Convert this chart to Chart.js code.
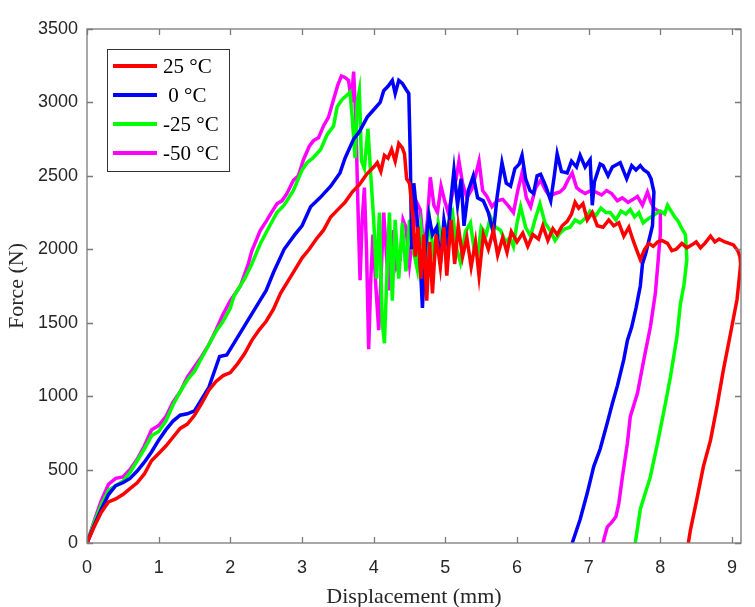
<!DOCTYPE html>
<html>
<head>
<meta charset="utf-8">
<script src="https://cdn.jsdelivr.net/npm/chart.js@4.4.1/dist/chart.umd.min.js"></script>
<style>
  html, body { margin: 0; padding: 0; background: #fff; }
  #wrap { width: 755px; height: 607px; }
</style>
</head>
<body>
<div id="wrap"><canvas id="chart-force" width="755" height="607"></canvas></div>
<script>
// Force vs displacement
const labels = ['25 °C', ' 0 °C', '-25 °C', '-50 °C'];
const colors = ['#ff0000', '#0000ff', '#00ff00', '#ff00ff'];
const xTicks = [0, 1, 2, 3, 4, 5, 6, 7, 8, 9];
const yTicks = [0, 500, 1000, 1500, 2000, 2500, 3000, 3500];

const disp25 = [0, 0.1, 0.2, 0.3, 0.4, 0.5, 0.6, 0.7, 0.8, 0.9, 1.0, 1.1, 1.2, 1.3, 1.4, 1.5, 1.6, 1.7, 1.8, 1.9, 2.0, 2.1, 2.2, 2.3, 2.4, 2.5, 2.6, 2.7, 2.8, 2.9, 3.0, 3.1, 3.2, 3.3, 3.4, 3.5, 3.6, 3.7, 3.8, 3.9, 4.0, 4.05, 4.1, 4.15, 4.2, 4.25, 4.3, 4.35, 4.4, 4.43, 4.46, 4.5, 4.55, 4.58, 4.62, 4.66, 4.7, 4.74, 4.78, 4.82, 4.87, 4.93, 4.98, 5.02, 5.08, 5.13, 5.18, 5.24, 5.3, 5.36, 5.42, 5.47, 5.53, 5.6, 5.67, 5.73, 5.8, 5.86, 5.92, 6.0, 6.08, 6.15, 6.22, 6.3, 6.36, 6.43, 6.5, 6.56, 6.63, 6.7, 6.76, 6.81, 6.86, 6.92, 6.98, 7.05, 7.12, 7.2, 7.28, 7.35, 7.42, 7.49, 7.56, 7.62, 7.68, 7.72, 7.78, 7.84, 7.9, 7.96, 8.02, 8.1, 8.16, 8.22, 8.3, 8.37, 8.44, 8.5, 8.56, 8.62, 8.7, 8.76, 8.82, 8.9, 8.96, 9.02, 9.08, 9.11, 9.12, 9.1, 9.07, 8.98, 8.88, 8.79, 8.7, 8.6, 8.51, 8.42, 8.39];
const force25 = [0, 110, 210, 280, 300, 330, 370, 410, 470, 560, 610, 660, 720, 780, 810, 870, 950, 1040, 1100, 1140, 1160, 1220, 1290, 1380, 1450, 1510, 1590, 1700, 1780, 1860, 1940, 2000, 2070, 2130, 2220, 2270, 2320, 2390, 2440, 2510, 2560, 2590, 2530, 2640, 2620, 2680, 2600, 2720, 2690, 2650, 2480, 2450, 2200, 1950, 2150, 1800, 2100, 1650, 2050, 1700, 2100, 1880, 2150, 1820, 2200, 1900, 2160, 1950, 2080, 1880, 2050, 1820, 2100, 2000, 2130, 1960, 2080, 1980, 2120, 2050, 2110, 2020, 2100, 2070, 2160, 2060, 2140, 2100, 2160, 2190, 2240, 2320, 2280, 2310, 2200, 2250, 2160, 2150, 2200, 2160, 2180, 2090, 2150, 2060, 1980, 1930, 2000, 2040, 2020, 2050, 2060, 2040, 1990, 2000, 2040, 2010, 2030, 2050, 2010, 2040, 2090, 2050, 2070, 2050, 2040, 2030, 1990, 1950, 1900, 1800, 1660, 1430, 1180, 930, 700, 520, 300, 90, 0];

const disp0 = [0, 0.1, 0.2, 0.3, 0.4, 0.5, 0.6, 0.7, 0.8, 0.9, 1.0, 1.1, 1.2, 1.3, 1.4, 1.5, 1.6, 1.7, 1.8, 1.85, 1.95, 2.0, 2.1, 2.2, 2.3, 2.4, 2.5, 2.6, 2.75, 2.9, 3.0, 3.12, 3.25, 3.4, 3.53, 3.6, 3.72, 3.8, 3.91, 4.0, 4.09, 4.14, 4.2, 4.26, 4.3, 4.35, 4.4, 4.45, 4.49, 4.51, 4.53, 4.56, 4.6, 4.65, 4.68, 4.72, 4.77, 4.82, 4.88, 4.93, 4.98, 5.03, 5.08, 5.12, 5.17, 5.22, 5.26, 5.32, 5.39, 5.45, 5.53, 5.6, 5.67, 5.72, 5.79, 5.85, 5.91, 5.97, 6.03, 6.07, 6.12, 6.18, 6.23, 6.28, 6.33, 6.4, 6.47, 6.52, 6.56, 6.62, 6.7, 6.76, 6.83, 6.88, 6.95, 7.02, 7.05, 7.08, 7.16, 7.2, 7.27, 7.33, 7.44, 7.53, 7.6, 7.66, 7.72, 7.77, 7.83, 7.87, 7.91, 7.89, 7.84, 7.8, 7.75, 7.72, 7.66, 7.6, 7.54, 7.49, 7.4, 7.33, 7.26, 7.16, 7.07, 6.98, 6.88, 6.77];
const force0 = [0, 120, 230, 330, 390, 410, 440, 490, 550, 620, 700, 770, 830, 870, 880, 900, 980, 1060, 1200, 1270, 1280, 1320, 1400, 1480, 1560, 1640, 1720, 1840, 2000, 2100, 2160, 2290, 2350, 2430, 2520, 2620, 2750, 2800, 2900, 2950, 3000, 3080, 3110, 3150, 3060, 3150, 3130, 3090, 3060, 2650, 2000, 2450, 2250, 1900, 1600, 2000, 2230, 2100, 2150, 1900, 2200, 2050, 2350, 2540, 2300, 2480, 2160, 2400, 2500, 2350, 2330, 2250, 2110, 2350, 2590, 2450, 2430, 2550, 2580, 2640, 2480, 2400, 2380, 2500, 2510, 2430, 2330, 2500, 2650, 2530, 2520, 2600, 2560, 2640, 2560, 2610, 2300, 2460, 2580, 2570, 2500, 2560, 2590, 2480, 2570, 2540, 2570, 2540, 2520, 2480, 2390, 2160, 2060, 1980, 1900, 1750, 1600, 1470, 1380, 1250, 1070, 950, 820, 640, 520, 340, 160, 0];

const disp25n = [0, 0.1, 0.2, 0.3, 0.4, 0.5, 0.6, 0.7, 0.8, 0.9, 1.0, 1.1, 1.2, 1.3, 1.4, 1.5, 1.6, 1.7, 1.8, 1.9, 2.0, 2.05, 2.2, 2.3, 2.42, 2.55, 2.65, 2.75, 2.88, 3.0, 3.07, 3.15, 3.26, 3.35, 3.44, 3.49, 3.56, 3.63, 3.67, 3.7, 3.74, 3.77, 3.8, 3.83, 3.87, 3.92, 3.96, 4.0, 4.04, 4.08, 4.12, 4.15, 4.19, 4.22, 4.26, 4.3, 4.35, 4.4, 4.45, 4.5, 4.55, 4.61, 4.66, 4.72, 4.78, 4.84, 4.9, 4.95, 5.02, 5.1, 5.16, 5.21, 5.28, 5.35, 5.4, 5.45, 5.5, 5.57, 5.63, 5.7, 5.77, 5.84, 5.9, 5.95, 6.0, 6.05, 6.12, 6.19, 6.25, 6.32, 6.39, 6.46, 6.53, 6.6, 6.67, 6.74, 6.81, 6.88, 6.95, 7.02, 7.1, 7.17, 7.24, 7.3, 7.38, 7.45, 7.52, 7.58, 7.64, 7.7, 7.76, 7.81, 7.87, 7.93, 8.0, 8.06, 8.1, 8.15, 8.2, 8.25, 8.3, 8.35, 8.37, 8.33, 8.28, 8.23, 8.14, 8.05, 7.96, 7.86, 7.72, 7.65];
const force25n = [0, 140, 260, 360, 390, 420, 480, 560, 640, 730, 760, 830, 940, 1030, 1110, 1170, 1260, 1350, 1440, 1510, 1600, 1680, 1800, 1900, 2040, 2160, 2250, 2300, 2400, 2540, 2590, 2620, 2680, 2780, 2840, 2970, 3020, 3050, 3070, 2900, 2620, 3000, 3080, 2600, 2550, 2820, 2500, 2200, 1800, 2250, 1500, 1360, 1900, 2250, 1650, 2200, 1800, 2180, 1850, 2200, 2000, 1860, 2150, 1920, 2200, 1950, 2180, 2060, 2150, 2250, 2000, 1910, 2120, 2180, 2000, 1950, 2150, 2100, 2220, 2150, 2130, 2050, 2080, 2020, 2180, 2290, 2150, 2090, 2200, 2310, 2180, 2130, 2060, 2110, 2140, 2150, 2200, 2180, 2210, 2260, 2230, 2280, 2250, 2250, 2200, 2260, 2240, 2270, 2220, 2250, 2180, 2200, 2220, 2240, 2260, 2240, 2300, 2260, 2220, 2190, 2140, 2100, 1930, 1760, 1630, 1400, 1130, 900, 680, 450, 230, 0];

const disp50n = [0, 0.1, 0.2, 0.3, 0.4, 0.5, 0.6, 0.7, 0.8, 0.9, 1.0, 1.1, 1.2, 1.3, 1.4, 1.5, 1.6, 1.7, 1.8, 1.9, 2.0, 2.14, 2.25, 2.3, 2.42, 2.5, 2.56, 2.65, 2.72, 2.79, 2.88, 2.95, 3.02, 3.1, 3.16, 3.23, 3.3, 3.37, 3.44, 3.5, 3.55, 3.6, 3.65, 3.69, 3.72, 3.75, 3.78, 3.81, 3.84, 3.87, 3.9, 3.93, 3.96, 3.99, 4.03, 4.07, 4.11, 4.14, 4.18, 4.21, 4.25, 4.28, 4.32, 4.37, 4.41, 4.45, 4.5, 4.55, 4.6, 4.65, 4.7, 4.75, 4.79, 4.84, 4.89, 4.94, 4.99, 5.04, 5.1, 5.15, 5.19, 5.24, 5.3, 5.37, 5.42, 5.47, 5.52, 5.58, 5.65, 5.72, 5.8, 5.87, 5.95, 6.01, 6.07, 6.13, 6.19, 6.26, 6.33, 6.4, 6.46, 6.53, 6.6, 6.66, 6.72, 6.77, 6.83, 6.88, 6.95, 7.03, 7.1, 7.18, 7.25, 7.32, 7.4, 7.47, 7.55, 7.62, 7.68, 7.75, 7.82, 7.87, 7.91, 7.97, 8.0, 8.0, 7.97, 7.93, 7.86, 7.77, 7.68, 7.58, 7.54, 7.47, 7.42, 7.38, 7.32, 7.26, 7.22, 7.2];
const force50n = [0, 150, 290, 400, 440, 450, 500, 570, 660, 770, 800, 860, 960, 1030, 1130, 1200, 1270, 1350, 1450, 1560, 1650, 1750, 1900, 1990, 2130, 2190, 2240, 2310, 2330, 2380, 2470, 2500, 2610, 2700, 2740, 2760, 2840, 2900, 3020, 3120, 3180, 3170, 3150, 3000, 3210, 2900, 2300, 1790, 2200, 2420, 2000, 1320, 1800, 2100, 1750, 1450, 1900, 2250, 1950, 1720, 2000, 2130, 1880, 1930, 2200, 2150, 1900, 2100, 2320, 2270, 2000, 2200, 2490, 2300, 2250, 2430, 2330, 2250, 2380, 2480, 2600, 2450, 2350, 2410, 2500, 2600, 2400, 2360, 2290, 2330, 2340, 2300, 2250, 2400, 2520, 2350, 2290, 2420, 2470, 2400, 2360, 2380, 2390, 2420, 2480, 2520, 2420, 2400, 2380, 2400, 2390, 2370, 2400, 2380, 2330, 2350, 2320, 2340, 2360, 2300, 2390, 2320, 2280, 2260, 2240, 2110, 1930, 1700, 1470, 1250, 1020, 860, 680, 450, 270, 180, 140, 110, 40, 0];

const series = [
  [disp25, force25],
  [disp0, force0],
  [disp25n, force25n],
  [disp50n, force50n]
];

const TEXT = '#262626';
const SANS = 'Liberation Sans, Arial, sans-serif';
const SERIF = 'Liberation Serif, Times New Roman, serif';

// box + inward ticks on all four sides, like the original plot
const framePlugin = {
  id: 'frame',
  afterDatasetsDraw(chart) {
    const { ctx, chartArea: a, scales } = chart;
    ctx.save();
    ctx.strokeStyle = '#7a7a7a';
    ctx.lineWidth = 1.3;
    ctx.strokeRect(a.left, a.top, a.right - a.left, a.bottom - a.top);
    ctx.beginPath();
    xTicks.forEach(v => {
      const px = Math.round(scales.x.getPixelForValue(v)) + 0.5;
      ctx.moveTo(px, a.bottom); ctx.lineTo(px, a.bottom - 6);
      ctx.moveTo(px, a.top); ctx.lineTo(px, a.top + 6);
    });
    yTicks.forEach(v => {
      const py = Math.round(scales.y.getPixelForValue(v)) + 0.5;
      ctx.moveTo(a.left, py); ctx.lineTo(a.left + 6, py);
      ctx.moveTo(a.right, py); ctx.lineTo(a.right - 6, py);
    });
    ctx.stroke();
    ctx.restore();
  }
};

const legendPlugin = {
  id: 'boxLegend',
  afterDraw(chart) {
    const { ctx, chartArea: a } = chart;
    const x0 = a.left + 20, y0 = a.top + 20, w = 122, h = 122;
    ctx.save();
    ctx.fillStyle = '#fff';
    ctx.fillRect(x0, y0, w, h);
    ctx.strokeStyle = '#333';
    ctx.lineWidth = 1;
    ctx.strokeRect(x0 + 0.5, y0 + 0.5, w, h);
    ctx.font = '21px ' + SERIF;
    ctx.textBaseline = 'middle';
    chart.data.datasets.forEach((ds, i) => {
      const yy = y0 + 17 + i * 29;
      ctx.strokeStyle = ds.borderColor;
      ctx.lineWidth = 4;
      ctx.beginPath();
      ctx.moveTo(x0 + 6, yy); ctx.lineTo(x0 + 50, yy);
      ctx.stroke();
      ctx.fillStyle = '#000';
      ctx.fillText(ds.label, x0 + 56, yy + 1);
    });
    ctx.restore();
  }
};

new Chart(document.getElementById('chart-force'), {
  type: 'scatter',
  data: {
    datasets: series.map(([xs, ys], i) => ({
      label: labels[i],
      data: xs.map((x, k) => ({ x, y: ys[k] })),
      borderColor: colors[i],
      backgroundColor: colors[i],
      showLine: true,
      borderWidth: 3.5,
      pointRadius: 0,
      tension: 0
    }))
  },
  options: {
    responsive: false,
    animation: false,
    layout: { padding: { top: 29, right: 14, left: 0, bottom: 0 } },
    plugins: { legend: { display: false }, tooltip: { enabled: false } },
    scales: {
      x: {
        type: 'linear', min: 0, max: 9.125,
        afterBuildTicks: s => { s.ticks = xTicks.map(v => ({ value: v })); },
        afterFit: s => { s.height = 64; },
        grid: { display: false, drawTicks: false },
        border: { display: false },
        ticks: { padding: 14, color: TEXT, font: { family: SANS, size: 18 }, callback: v => String(v) },
        title: { display: true, text: 'Displacement (mm)', color: TEXT,
                 font: { family: SERIF, size: 22 }, padding: { top: 0, bottom: -3 } }
      },
      y: {
        type: 'linear', min: 0, max: 3500,
        afterBuildTicks: s => { s.ticks = yTicks.map(v => ({ value: v })); },
        afterFit: s => { s.width = 87; },
        grid: { display: false, drawTicks: false },
        border: { display: false },
        ticks: { padding: 9, color: TEXT, font: { family: SANS, size: 18 }, callback: v => String(v) },
        title: { display: true, text: 'Force (N)', color: TEXT,
                 font: { family: SERIF, size: 22 }, padding: { top: 4, bottom: 0 } }
      }
    }
  },
  plugins: [framePlugin, legendPlugin]
});
</script>
</body>
</html>
